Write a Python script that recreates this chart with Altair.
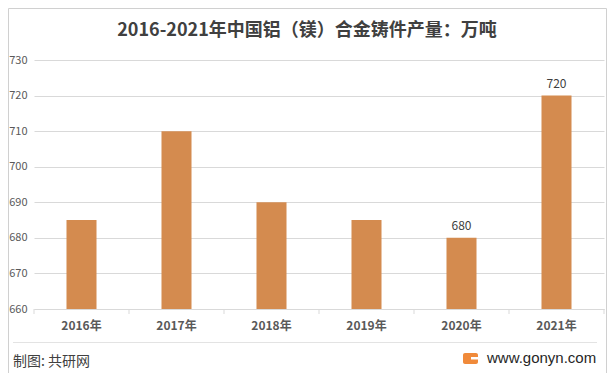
import altair as alt
import pandas as pd

# ---- data ----
years = ["2016年", "2017年", "2018年", "2019年", "2020年", "2021年"]
output = [685, 710, 690, 685, 680, 720]
shown_labels = ["", "", "", "", "680", "720"]
y_ticks = [660, 670, 680, 690, 700, 710, 720, 730]
y_domain = [660, 730]

title_text = "2016-2021年中国铝（镁）合金铸件产量：万吨"
source_text = "制图: 共研网"
site_text = "www.gonyn.com"

df = pd.DataFrame({"year": years, "value": output, "label": shown_labels})
one = pd.DataFrame({"k": [0]})

W, H = 570, 249
FONT = "Noto Sans CJK SC"
BAR = "#D48B4F"
GRID = "#d9d9d9"

xscale = alt.Scale(paddingInner=0.684, paddingOuter=0.342)
yscale = alt.Scale(domain=y_domain, nice=False, zero=False)

x_axis = alt.Axis(title=None, labelAngle=0, ticks=False, domain=True, domainColor=GRID,
                  labelPadding=11, labelFontSize=12, labelFontWeight="bold",
                  labelColor="#595959", labelFont=FONT, grid=False)
y_axis = alt.Axis(title=None, values=y_ticks, tickCount=8, grid=True, gridColor=GRID,
                  domain=False, ticks=False, labelPadding=7, labelFontSize=11,
                  labelColor="#595959", labelFont=FONT, labelOverlap=False,
                  labelBound=False)

bars = alt.Chart(df).mark_bar(color=BAR).encode(
    x=alt.X("year:N", sort=years, scale=xscale, axis=x_axis),
    y=alt.Y("value:Q", scale=yscale, axis=y_axis),
    y2=alt.datum(660),
)

labels = alt.Chart(df).mark_text(dy=-12, fontSize=12, color="#404040", font=FONT).encode(
    x=alt.X("year:N", sort=years, scale=xscale, axis=x_axis),
    y=alt.Y("value:Q", scale=yscale, axis=y_axis),
    text="label:N",
)

main = alt.layer(bars, labels)

# category boundary ticks
bticks = alt.Chart(df).mark_rule(color=GRID).encode(
    x=alt.X("year:N", sort=years, scale=alt.Scale(paddingInner=0, paddingOuter=0),
            axis=None, bandPosition=0),
    y=alt.value(H), y2=alt.value(H + 5),
)
end_tick = alt.Chart(one).mark_rule(color=GRID).encode(
    x=alt.value(W), y=alt.value(H), y2=alt.value(H + 5))

# decorations
title = alt.Chart(one).mark_text(text=title_text, fontSize=18, fontWeight="bold",
                                 color="#404040", font=FONT, align="center",
                                 baseline="middle").encode(
    x=alt.value(273), y=alt.value(-29))
border = alt.Chart(one).mark_rect(fill=None, stroke="#d0d0d0", strokeWidth=1).encode(
    x=alt.value(-25.5), x2=alt.value(572.5), y=alt.value(-51.5), y2=alt.value(313.5))
sep = alt.Chart(one).mark_rule(color="#e3e3e3").encode(
    x=alt.value(-21), x2=alt.value(563), y=alt.value(282.5))
source = alt.Chart(one).mark_text(text=source_text, fontSize=14, color="#404040", font=FONT,
                                  align="left", baseline="middle").encode(
    x=alt.value(-21), y=alt.value(302))
site = alt.Chart(one).mark_text(text=site_text, fontSize=15, color="#262626",
                                font="Liberation Sans", align="left",
                                baseline="middle").encode(
    x=alt.value(453), y=alt.value(298))
logo = alt.Chart(one).mark_rect(fill="#F08A3A", cornerRadius=2).encode(
    x=alt.value(429), x2=alt.value(444), y=alt.value(293), y2=alt.value(304))
logo_notch = alt.Chart(one).mark_rect(fill="white").encode(
    x=alt.value(437), x2=alt.value(444), y=alt.value(297), y2=alt.value(299.5))

chart = alt.layer(
    border, main, bticks, end_tick, title, sep, source, logo, logo_notch, site
).resolve_scale(x="independent").properties(
    width=W, height=H,
    autosize=alt.AutoSizeParams(type="none"),
    padding={"left": 26, "top": 52, "right": 3, "bottom": 64},
    background="white",
).configure_view(stroke=None)

chart.save("out.html", embed_options={"renderer": "svg", "actions": False})
